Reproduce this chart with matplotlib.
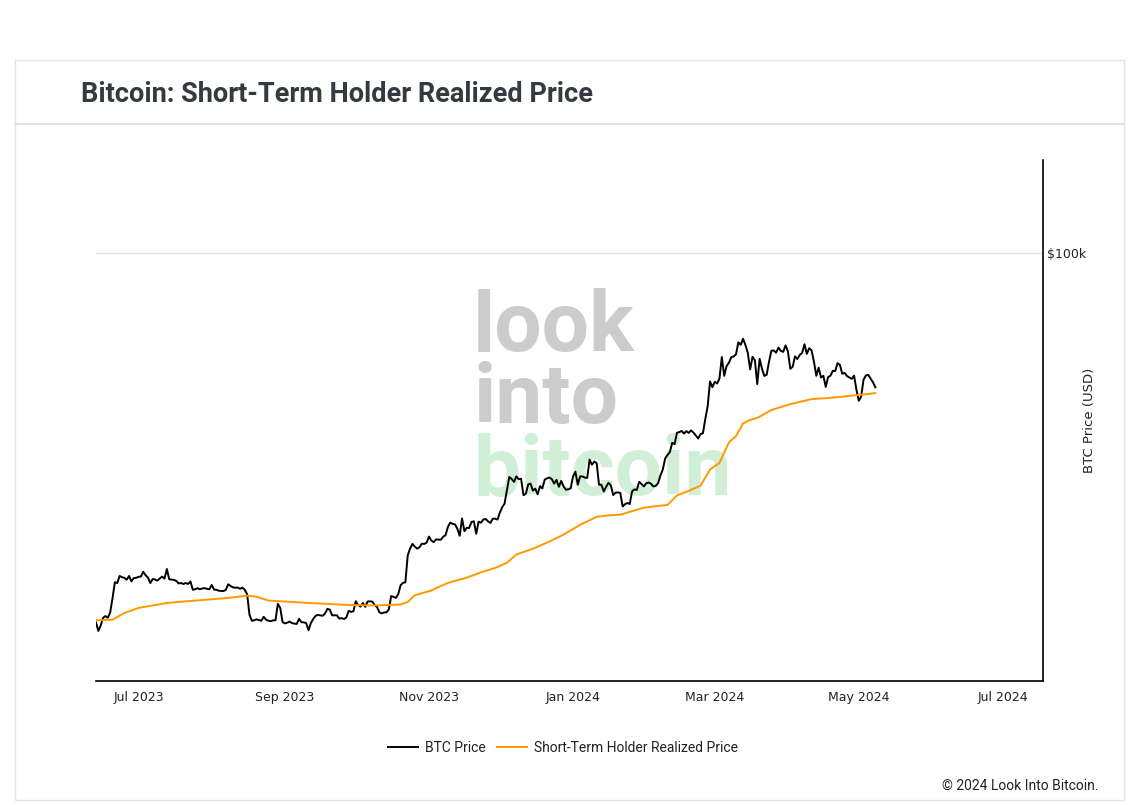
import matplotlib
matplotlib.use("Agg")
import matplotlib.pyplot as plt
from matplotlib.patches import Rectangle
from matplotlib.lines import Line2D
import pandas as pd

# ---------------- data ----------------
btc_start = "2023-06-13"
btc_price = [
    # Jun 13-30 2023
    25900, 25100, 25600, 26340, 26500, 26340, 26850, 28300, 30000, 29900, 30690, 30550,
    30480, 30270, 30690, 30080, 30450, 30480,
    # Jul 2023
    30590, 30620, 31160, 30770, 30510, 29900, 30350, 30290, 30170, 30410, 30620, 30390,
    31480, 30320, 30290, 30250, 30140, 29860, 29910, 29800, 29910, 29800, 30080, 29180,
    29230, 29350, 29230, 29320, 29350, 29280, 29230,
    # Aug 2023
    29700, 29190, 29180, 29070, 29050, 29040, 29180, 29770, 29580, 29430, 29400, 29420,
    29280, 29410, 29170, 28700, 26620, 26050, 26100, 26190, 26120, 26050, 26430, 26160,
    26050, 26010, 26090, 26100, 27720, 27300, 25930,
    # Sep 2023
    25800, 25870, 25970, 25830, 25780, 25750, 26240, 25910, 25900, 25830, 25160, 25840,
    26230, 26530, 26610, 26570, 26530, 26760, 27210, 27130, 26570, 26580, 26580, 26260,
    26300, 26220, 26350, 27020, 26910, 26970,
    # Oct 2023
    27980, 27590, 27430, 27800, 27410, 27950, 27970, 27940, 27590, 27390, 26870, 26760,
    26860, 26860, 27160, 28520, 28420, 28330, 28720, 29680, 29920, 29990, 33090, 33920,
    34500, 34160, 33910, 34090, 34540, 34500, 34670,
    # Nov 2023
    35440, 34940, 34730, 35080, 35050, 35040, 35420, 35620, 36700, 37310, 37130, 37070,
    36490, 35540, 37880, 36160, 36600, 36580, 37390, 37480, 35810, 37430, 37290, 37720,
    37800, 37480, 37250, 37830, 37850, 37720,
    # Dec 2023
    38690, 39470, 39980, 41980, 44080, 43770, 43290, 44170, 43720, 43790, 41240, 41450,
    42890, 43020, 41930, 42240, 41360, 42620, 42270, 43650, 43870, 43980, 43740, 43020,
    43610, 42520, 43440, 42580, 42070, 42140, 42280,
    # Jan 2024
    44180, 44940, 42850, 44180, 44160, 43970, 43930, 46970, 46110, 46630, 46370, 42850,
    42840, 41800, 42510, 43150, 42740, 41260, 41620, 41660, 41580, 39570, 39900, 40080,
    39930, 41820, 42120, 42030, 43300, 42950, 42580,
    # Feb 2024
    43080, 43190, 43000, 42580, 42660, 43080, 44320, 45300, 47150, 47770, 48290, 49960,
    49700, 51810, 51940, 52160, 51660, 52120, 51780, 52280, 51840, 51300, 50730, 51570,
    51730, 54480, 57080, 62500, 61200,
    # Mar 2024
    62440, 62030, 63170, 68330, 63800, 66110, 66930, 68300, 68500, 69020, 72120, 71480,
    73080, 71400, 69400, 65320, 68390, 67550, 61910, 67910, 65490, 63780, 64060, 67230,
    69960, 69990, 69460, 70740, 69890, 69650, 71330,
    # Apr 2024
    69700, 65450, 65980, 68510, 67840, 68900, 69360, 71620, 69150, 70590, 70060, 67200,
    63820, 65740, 63420, 63810, 61280, 63510, 63840, 64990, 64930, 66840, 66410, 64290,
    64500, 63760, 63420, 63110, 63840, 60640,
    # May 1-8 2024
    58250, 59120, 62890, 63890, 64030, 63160, 62330, 61190,
]

sth_dates = [
    "2023-06-13", "2023-06-20", "2023-06-25", "2023-07-01", "2023-07-07", "2023-07-13",
    "2023-07-20", "2023-07-28", "2023-08-07", "2023-08-16", "2023-08-20", "2023-08-25",
    "2023-09-01", "2023-09-11", "2023-09-20", "2023-09-28", "2023-10-08", "2023-10-15",
    "2023-10-20", "2023-10-23", "2023-10-26", "2023-11-02", "2023-11-07", "2023-11-10",
    "2023-11-17", "2023-11-23", "2023-11-29", "2023-12-04", "2023-12-08", "2023-12-15",
    "2023-12-22", "2023-12-28", "2024-01-04", "2024-01-11", "2024-01-16", "2024-01-21",
    "2024-01-26", "2024-01-31", "2024-02-05", "2024-02-10", "2024-02-14", "2024-02-19",
    "2024-02-24", "2024-02-28", "2024-03-03", "2024-03-07", "2024-03-10", "2024-03-13",
    "2024-03-16", "2024-03-19", "2024-03-25", "2024-04-01", "2024-04-06", "2024-04-11",
    "2024-04-17", "2024-04-22", "2024-04-27", "2024-05-03", "2024-05-08",
]
sth_price = [
    26100, 26150, 26800, 27300, 27550, 27800,
    27950, 28100, 28300, 28550, 28450, 28050,
    27950, 27800, 27700, 27600, 27550, 27600,
    27650, 27900, 28600, 29100, 29700, 30000,
    30500, 31100, 31600, 32200, 33200, 33900,
    34800, 35700, 37000, 38100, 38300, 38400,
    38900, 39400, 39600, 39800, 41200, 41900,
    42700, 45300, 46400, 50000, 51200, 53600,
    54300, 54700, 56300, 57400, 58000, 58600,
    58800, 59000, 59300, 59600, 59900,
]

x_tick_labels = ["Jul 2023", "Sep 2023", "Nov 2023", "Jan 2024", "Mar 2024", "May 2024", "Jul 2024"]
x_tick_dates = ["2023-07-01", "2023-09-01", "2023-11-01", "2024-01-01", "2024-03-01", "2024-05-01", "2024-07-01"]
y_ticks = [100000]
y_tick_labels = ["$100k"]

# ---------------- figure ----------------
W, H = 1140, 805
fig = plt.figure(figsize=(W / 100, H / 100), dpi=100)
fig.patch.set_facecolor("white")

def fx(px):
    return px / W

def fy(py):
    return 1 - py / H

# card border
fig.patches.append(Rectangle((fx(15), fy(800)), fx(1124) - fx(15), fy(60) - fy(800),
                             transform=fig.transFigure, facecolor="none",
                             edgecolor="#e3e3e3", linewidth=1.0, zorder=0))
fig.lines.append(Line2D([fx(15), fx(1124)], [fy(124), fy(124)], transform=fig.transFigure,
                        color="#e0e0e0", linewidth=1.5))

fig.text(fx(81), fy(95), "Bitcoin: Short-Term Holder Realized Price", fontfamily="Roboto",
         fontweight="bold", fontsize=19.5, color="#343a40", va="center", ha="left")

ax = fig.add_axes([fx(96), fy(681), fx(1043) - fx(96), fy(160) - fy(681)])
ax.set_facecolor("none")

btc_dates = pd.date_range(btc_start, periods=len(btc_price), freq="D")
ax.plot(btc_dates, btc_price, color="black", linewidth=1.4, zorder=3, label="BTC Price")
ax.plot(pd.to_datetime(sth_dates), sth_price, color="#ff9900", linewidth=1.4, zorder=4,
        label="Short-Term Holder Realized Price")

ax.set_yscale("log")
ax.set_ylim(20900, 140500)
ax.set_xlim(pd.Timestamp("2023-06-13"), pd.Timestamp("2024-07-18"))

ax.yaxis.tick_right()
ax.set_yticks(y_ticks)
ax.set_yticklabels(y_tick_labels)
ax.yaxis.set_minor_locator(matplotlib.ticker.NullLocator())
ax.set_xticks(pd.to_datetime(x_tick_dates))
ax.set_xticklabels(x_tick_labels)
ax.tick_params(axis="both", length=0, labelsize=9, colors="#222222")
ax.tick_params(axis="x", pad=7)
ax.tick_params(axis="y", pad=3)
ax.grid(axis="y", color="#e6e6e6", linewidth=1)
ax.set_axisbelow(True)

for s in ["left", "top"]:
    ax.spines[s].set_visible(False)
ax.spines["bottom"].set_color("black")
ax.spines["right"].set_color("black")
ax.spines["bottom"].set_linewidth(1.2)
ax.spines["right"].set_linewidth(1.2)

fig.text(fx(1089), fy(420), "BTC Price (USD)", fontsize=9.5, color="#222222",
         rotation=90, ha="center", va="center")

# watermark
wm_font = dict(fontfamily="Roboto", fontweight="bold", fontsize=60.5, transform=fig.transFigure,
               ha="left", va="baseline", zorder=1)
ax.text(fx(473), fy(423), "look\ninto", color="#cccccc", linespacing=0.89,
        multialignment="left", **wm_font)
ax.text(fx(473), fy(495), "bitcoin", color="#d1eed7", **wm_font)

leg = fig.legend(handles=ax.get_lines(), loc="center", bbox_to_anchor=(fx(563), fy(748)),
                 ncol=2, frameon=False, handlelength=2.2, handletextpad=0.5,
                 columnspacing=0.8, prop={"family": "Roboto", "size": 10})
for t in leg.get_texts():
    t.set_color("#222222")

fig.text(fx(1098), fy(786), "© 2024 Look Into Bitcoin.", fontfamily="Roboto", fontsize=10,
         color="#222222", ha="right", va="center")

fig.savefig("out.png", dpi=100)
